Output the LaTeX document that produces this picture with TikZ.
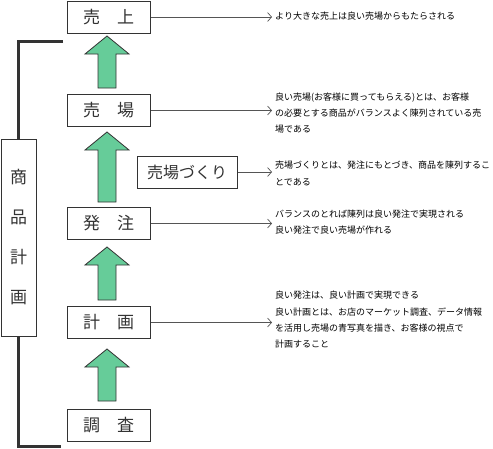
\documentclass[tikz,border=0pt]{standalone}
\usepackage{fontspec}
\newfontfamily\jp{Noto Sans CJK JP}
\usetikzlibrary{arrows.meta,calc}
\definecolor{boxc}{HTML}{333333}
\definecolor{linec}{HTML}{555555}
\definecolor{arrowc}{HTML}{66CC99}
\newcommand\greenup[2]{%
  \draw[uparrow] let \p1=(#1), \p2=(#2) in
    (\x1,\y1) -- (\x1+22pt,\y1-18pt) -- (\x1+9pt,\y1-18pt) -- (\x1+9pt,\y2)
    -- (\x1-9pt,\y2) -- (\x1-9pt,\y1-18pt) -- (\x1-22pt,\y1-18pt) -- cycle;}
\begin{document}
\begin{tikzpicture}[x=1pt,y=-1pt,
  box/.style={draw=boxc, line width=1pt, minimum width=83pt, minimum height=32pt,
    inner sep=0pt, font=\jp\fontsize{17}{17}\selectfont, text=boxc},
  note/.style={anchor=west, align=left, inner xsep=3pt, inner ysep=0pt,
    font=\jp\fontsize{9}{16.3}\selectfont, text=black},
  link/.style={draw=linec, line width=0.7pt, -{Straight Barb[length=4pt,width=9pt]}},
  bracket/.style={draw=boxc, line width=3pt},
  uparrow/.style={fill=arrowc, draw=boxc, line width=0.8pt, line join=miter}]
\useasboundingbox (0,0) rectangle (493,448);

% main boxes
\node[box] (uriage) at (108.5,17) {売　上};
\node[box] (uriba) at (108.5,110.5) {売　場};
\node[box] (hacchu) at (108.5,223.5) {発　注};
\node[box] (keikaku) at (108.5,322.5) {計　画};
\node[box] (chousa) at (108.5,425.5) {調　査};
\node[box, minimum width=100pt, font=\jp\fontsize{16}{16}\selectfont] (zukuri) at (187,172) {売場づくり};

% side box
\node[draw=boxc, line width=1pt, minimum width=35pt, minimum height=197pt, inner sep=0pt,
  align=center, text=boxc, font=\jp\fontsize{17}{40}\selectfont] (side) at (18.5,237.5)
  {商\\品\\計\\画};

% bracket
\coordinate (btop) at (63,41);
\coordinate (bbot) at (61,446);
\draw[bracket] (btop) -| (side.north);
\draw[bracket] (side.south) |- (bbot);

% green arrows
\coordinate (t1) at (107,36);  \coordinate (b1) at (107,88);
\coordinate (t2) at (107,132); \coordinate (b2) at (107,202);
\coordinate (t3) at (107,247); \coordinate (b3) at (107,300);
\coordinate (t4) at (107,349); \coordinate (b4) at (107,401);
\greenup{t1}{b1}
\greenup{t2}{b2}
\greenup{t3}{b3}
\greenup{t4}{b4}

% notes
\node[note] (n1) at (272,16) {より大きな売上は良い売場からもたらされる};
\node[note] (n2) at (272,113) {良い売場(お客様に買ってもらえる)とは、お客様\\の必要とする商品がバランスよく陳列されている売\\場である};
\node[note] (n3) at (272,173.5) {売場づくりとは、発注にもとづき、商品を陳列するこ\\とである};
\node[note] (n4) at (272,222) {バランスのとれば陳列は良い発注で実現される\\良い発注で良い売場が作れる};
\node[note] (n5) at (272,320) {良い発注は、良い計画で実現できる\\良い計画とは、お店のマーケット調査、データ情報\\を活用し売場の青写真を描き、お客様の視点で\\計画すること};

% links
\draw[link] (uriage.east) -- (uriage.east -| n1.west);
\draw[link] (uriba.east) -- (uriba.east -| n2.west);
\draw[link] (zukuri.east) -- (zukuri.east -| n3.west);
\draw[link] (hacchu.east) -- (hacchu.east -| n4.west);
\draw[link] (keikaku.east) -- (keikaku.east -| n5.west);
\end{tikzpicture}
\end{document}
